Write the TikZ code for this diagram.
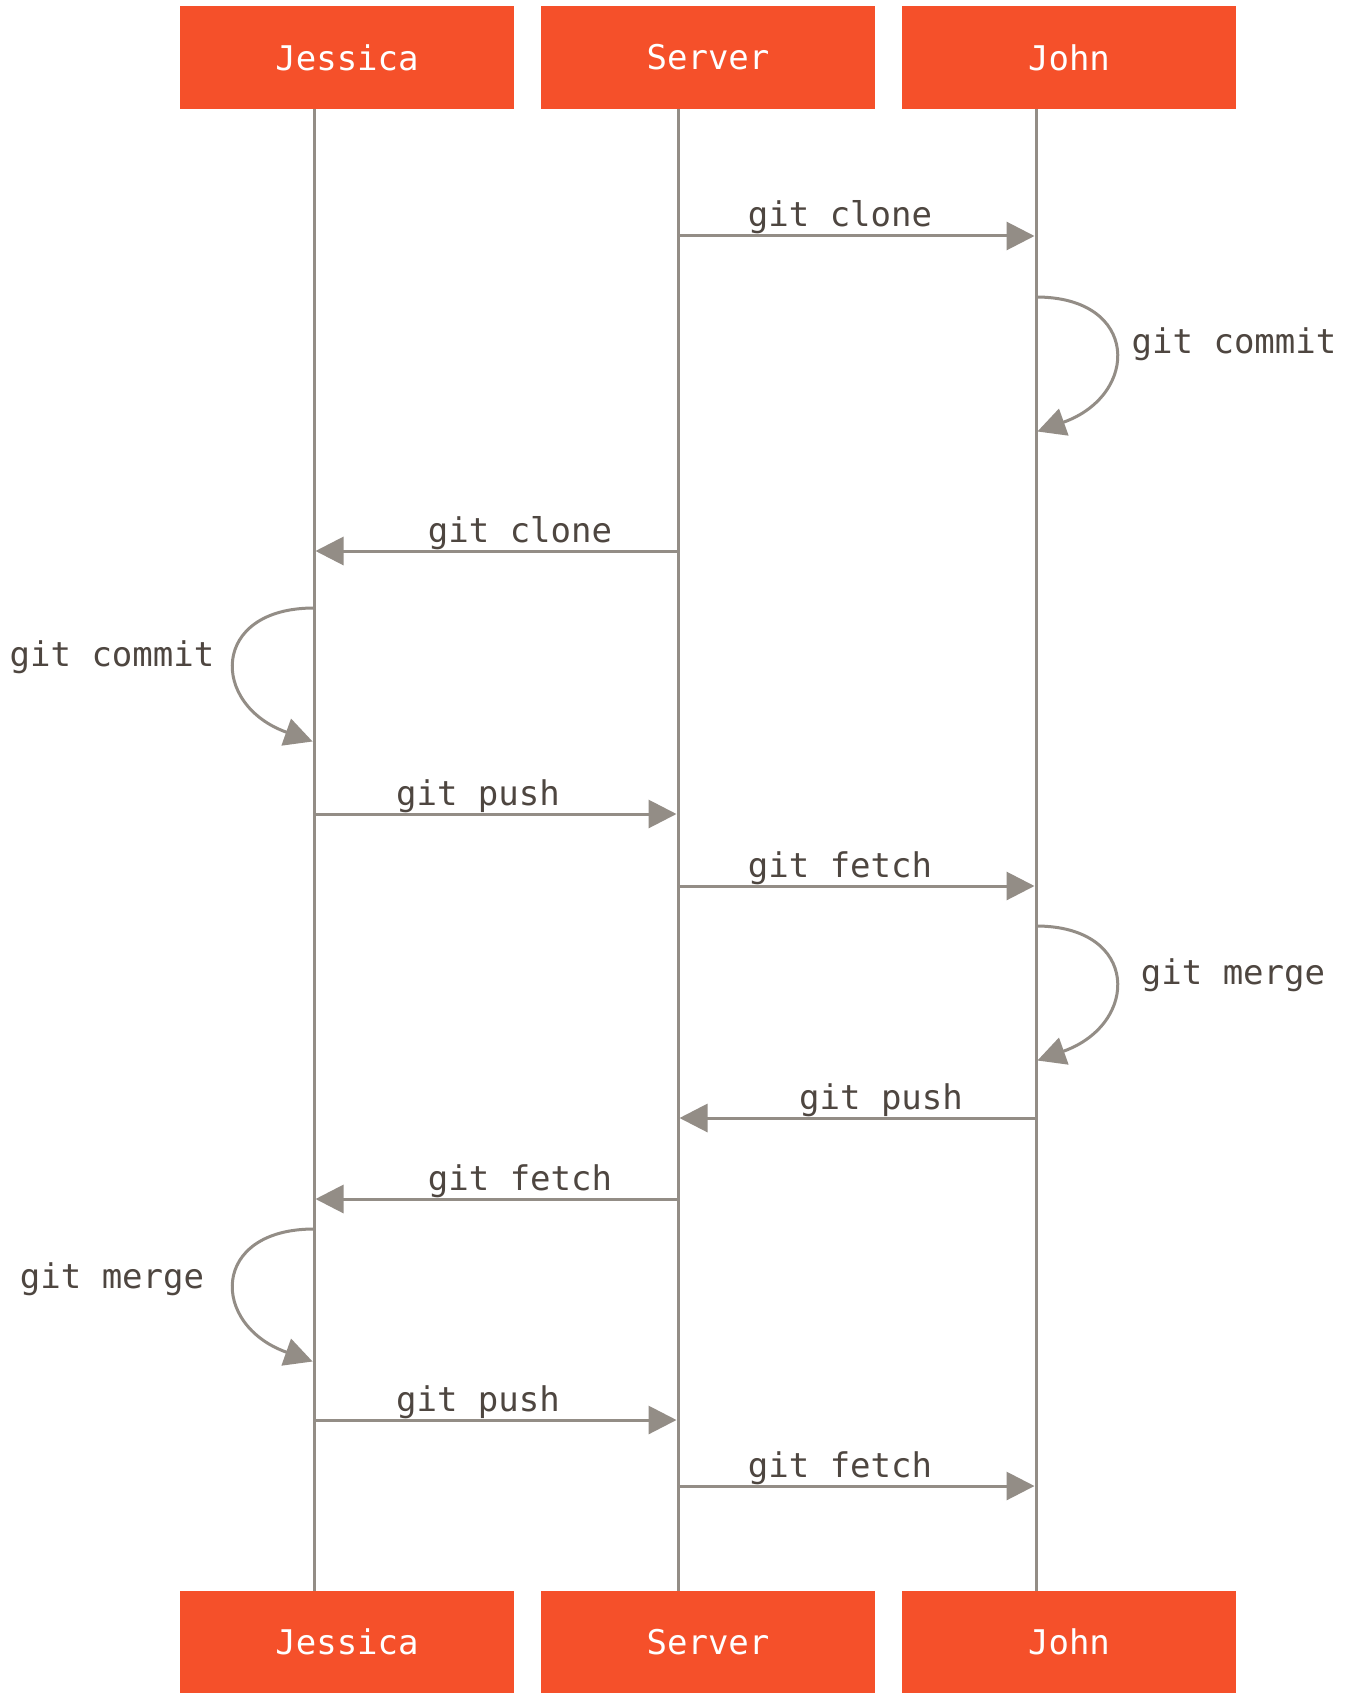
\documentclass[tikz,border=0pt]{standalone}
\usepackage{fontspec}
\setmonofont{DejaVu Sans Mono}
\usetikzlibrary{arrows.meta}
\definecolor{gitorange}{RGB}{245,80,42}
\definecolor{lifegray}{RGB}{147,141,134}
\definecolor{labeltext}{RGB}{78,70,64}
\begin{document}
\begin{tikzpicture}[x=1pt,y=-1pt,
  actor/.style={fill=gitorange, minimum width=334pt, minimum height=103pt, inner sep=0pt, text=white, font=\ttfamily\fontsize{34}{40}\selectfont},
  lifeline/.style={draw=lifegray, line width=3pt},
  msg/.style={draw=lifegray, line width=3pt, shorten >=1.5pt, -{Triangle[length=28pt,width=28pt]}},
  lbl/.style={text=labeltext, font=\ttfamily\fontsize{34}{40}\selectfont, inner sep=0pt, anchor=base}]
\fill[white] (0,0) rectangle (1356,1693);
\useasboundingbox (0,0) rectangle (1356,1693);
% actors
\node[actor] (jessT) at (347,57.5) {Jessica};
\node[actor] (servT) at (708,57.5) {Server};
\node[actor] (johnT) at (1069,57.5) {John};
\node[actor, minimum height=102pt] (jessB) at (347,1642) {Jessica};
\node[actor, minimum height=102pt] (servB) at (708,1642) {Server};
\node[actor, minimum height=102pt] (johnB) at (1069,1642) {John};
% lifeline ends
\coordinate (jt) at (314,109); \coordinate (jb) at (314,1591);
\coordinate (st) at (678,109); \coordinate (sb) at (678,1591);
\coordinate (ot) at (1036,109); \coordinate (ob) at (1036,1591);
\draw[lifeline] (jt) -- (jb);
\draw[lifeline] (st) -- (sb);
\draw[lifeline] (ot) -- (ob);
% event coordinates
\coordinate (s1) at (678,236); \coordinate (o1) at (1036,236);
\coordinate (o2a) at (1036,297); \coordinate (o2b) at (1036,432);
\coordinate (s3) at (678,551); \coordinate (j3) at (314,551);
\coordinate (j4a) at (314,608); \coordinate (j4b) at (314,742);
\coordinate (j5) at (314,814); \coordinate (s5) at (678,814);
\coordinate (s6) at (678,886); \coordinate (o6) at (1036,886);
\coordinate (o7a) at (1036,926); \coordinate (o7b) at (1036,1061);
\coordinate (o8) at (1036,1118); \coordinate (s8) at (678,1118);
\coordinate (s9) at (678,1199); \coordinate (j9) at (314,1199);
\coordinate (j10a) at (314,1229); \coordinate (j10b) at (314,1362);
\coordinate (j11) at (314,1420); \coordinate (s11) at (678,1420);
\coordinate (s12) at (678,1486); \coordinate (o12) at (1036,1486);
% messages
\draw[msg] (s1) -- (o1);
\node[lbl] (l1) at (840,227) {git clone};
\draw[msg] (o2a) .. controls +(104,0) and +(104,-37) .. (o2b);
\node[lbl] (l2) at (1234,353) {git commit};
\draw[msg] (s3) -- (j3);
\node[lbl] (l3) at (520,542) {git clone};
\draw[msg] (j4a) .. controls +(-104,0) and +(-104,-37) .. (j4b);
\node[lbl] (l4) at (112,666) {git commit};
\draw[msg] (j5) -- (s5);
\node[lbl] (l5) at (478,805) {git push};
\draw[msg] (s6) -- (o6);
\node[lbl] (l6) at (840,877) {git fetch};
\draw[msg] (o7a) .. controls +(104,0) and +(104,-37) .. (o7b);
\node[lbl] (l7) at (1233,984) {git merge};
\draw[msg] (o8) -- (s8);
\node[lbl] (l8) at (881,1109) {git push};
\draw[msg] (s9) -- (j9);
\node[lbl] (l9) at (520,1190) {git fetch};
\draw[msg] (j10a) .. controls +(-104,0) and +(-104,-37) .. (j10b);
\node[lbl] (l10) at (112,1288) {git merge};
\draw[msg] (j11) -- (s11);
\node[lbl] (l11) at (478,1411) {git push};
\draw[msg] (s12) -- (o12);
\node[lbl] (l12) at (840,1477) {git fetch};
\end{tikzpicture}
\end{document}
